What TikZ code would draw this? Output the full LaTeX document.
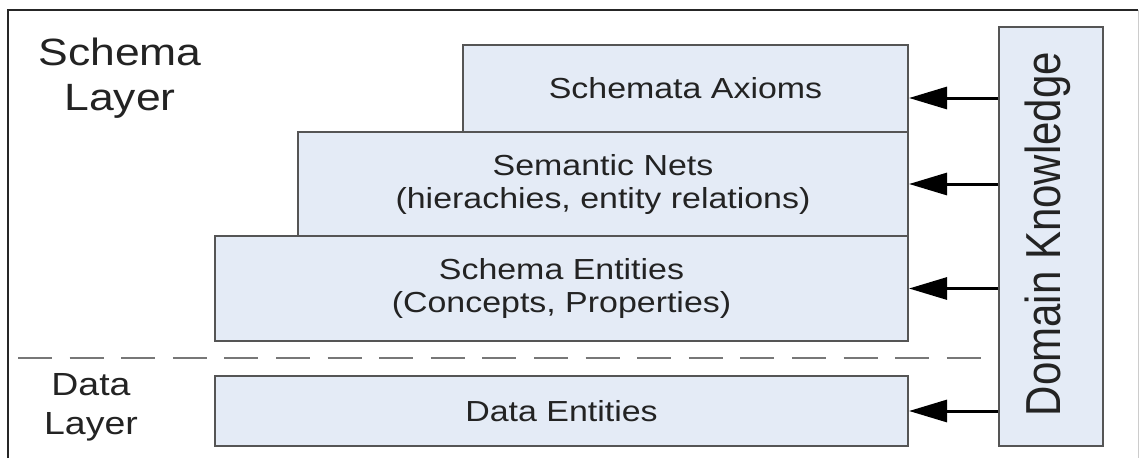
\documentclass[tikz,border=0pt]{standalone}
\usepackage{fontspec}
\setmainfont{Liberation Sans}[FakeStretch=1.17]
\newfontfamily\plainsans{Liberation Sans}
\usetikzlibrary{arrows.meta}
\definecolor{boxfill}{RGB}{228,235,246}
\definecolor{boxline}{RGB}{85,85,85}
\definecolor{txt}{RGB}{35,35,35}
\tikzset{
  layerbox/.style={draw=boxline, line width=2pt, fill=boxfill, inner sep=0pt, anchor=north west,
    align=center, text=txt, font=\fontsize{29}{33}\selectfont},
  layerlabel/.style={align=center, text=txt, inner sep=0pt},
  feed/.style={line width=3pt, black, -{Triangle[length=38pt,width=22pt]}},
  sep/.style={draw=boxline!80, line width=2pt, dash pattern=on 34pt off 17.6pt}
}
\begin{document}
\begin{tikzpicture}[x=1pt,y=-1pt]
\useasboundingbox (0,0) rectangle (1140,458);
\fill[white] (0,0) rectangle (1140,458);
% frame
\draw[black!85, line width=2pt] (8,458) -- (8,10) -- (1138,10);
\draw[black!20, line width=1pt] (1138.5,10) -- (1138.5,458);
% dashed separator
\coordinate (sepL) at (18,358);
\coordinate (sepR) at (982,358);
\draw[sep] (sepL) -- (sepR);
% boxes
\node[layerbox, minimum width=445pt, minimum height=87pt] (axioms) at (462,44) {Schemata Axioms};
\node[layerbox, minimum width=610pt, minimum height=104pt] (nets) at (297,131) {Semantic Nets\\(hierachies, entity relations)};
\node[layerbox, minimum width=693pt, minimum height=105pt] (entities) at (214,235) {Schema Entities\\(Concepts, Properties)};
\node[layerbox, minimum width=693pt, minimum height=70pt] (data) at (214,375) {Data Entities};
\node[layerbox, minimum width=104pt, minimum height=419pt] (dk) at (998,26) {};
\node[rotate=90, text=txt, inner sep=0pt, font=\plainsans\fontsize{42}{48}\selectfont] (dklabel) at (1048,234) {\scalebox{1}[1.17]{Domain Knowledge}};
% layer labels
\node[layerlabel, font=\fontsize{38}{45}\selectfont, anchor=base] (schemalayer) at (120,110) {Schema\\Layer};
\node[layerlabel, font=\fontsize{32}{39}\selectfont, anchor=base] (datalayer) at (91,434) {Data\\Layer};
% arrows
\coordinate (axin) at ([yshift=-9.5pt]axioms.east);
\draw[feed] (dk.west |- axin) -- (axin);
\draw[feed] (dk.west |- nets.east) -- (nets.east);
\draw[feed] (dk.west |- entities.east) -- (entities.east);
\draw[feed] (dk.west |- data.east) -- (data.east);
\end{tikzpicture}
\end{document}
